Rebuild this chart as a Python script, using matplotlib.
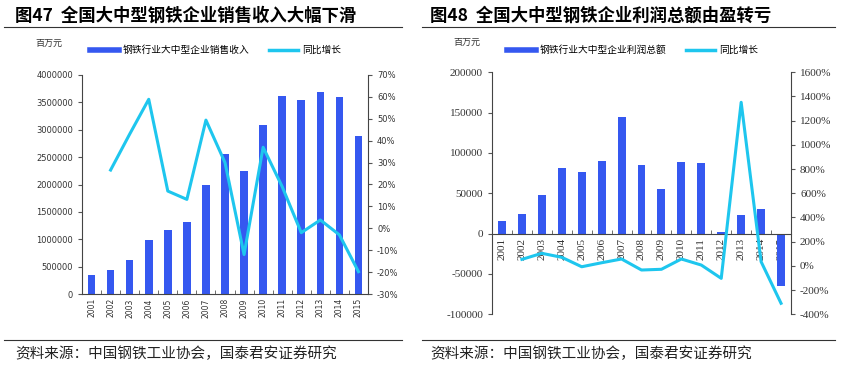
import matplotlib
matplotlib.use("Agg")
import matplotlib.pyplot as plt
import numpy as np
from matplotlib.lines import Line2D
from matplotlib.ticker import FuncFormatter, MultipleLocator

plt.rcParams['font.family'] = ['Noto Sans CJK SC', 'DejaVu Sans']

years = [str(y) for y in range(2001, 2016)]

# 图47: 销售收入 (百万元) and 同比增长 (%)
revenue = [340000, 430000, 625000, 990000, 1170000, 1320000, 1990000, 2555000,
           2240000, 3080000, 3620000, 3545000, 3690000, 3595000, 2890000]
revenue_growth = [np.nan, 26.6, 43.0, 58.9, 17.0, 13.2, 49.4, 30.0,
                  -12.0, 37.0, 19.0, -2.0, 3.8, -3.0, -19.8]

# 图48: 利润总额 (百万元) and 同比增长 (%)
profit = [15500, 23800, 47700, 81500, 76200, 90200, 144700, 84500,
          55500, 89400, 87400, 1500, 22900, 30700, -64700]
profit_growth = [np.nan, 54, 104, 71, -7, 26, 57, -34,
                 -28, 57, 7, -103, 1352, 35, -309]

BAR = '#3558F0'
LINE = '#1EC6EE'
W, H = 841, 367


def rect(x0, y0, x1, y1):
    # pixel box -> figure fraction
    return [x0 / W, 1 - y1 / H, (x1 - x0) / W, (y1 - y0) / H]


fig = plt.figure(figsize=(W / 100, H / 100), dpi=100)


def panel(box, bars, growth, ylim, ystep, ylim2, ystep2, title, tx, rule,
          bar_label, unit_xy, leg_xy, numfont, xsize, ysize, zero_axis):
    ax = fig.add_axes(rect(*box))
    x = np.arange(len(years))
    ax.bar(x, bars, width=0.4, color=BAR, zorder=2)
    ax.set_xlim(-0.5, len(years) - 0.5)
    ax.set_ylim(*ylim)
    ax.yaxis.set_major_locator(MultipleLocator(ystep))
    ax.yaxis.set_major_formatter(FuncFormatter(lambda v, p: f'{v:.0f}'))
    for s in ['top', 'right']:
        ax.spines[s].set_visible(False)
    if zero_axis:
        ax.spines['bottom'].set_position(('data', 0))
    ax.set_xticks(x)
    ax.set_xticklabels(years, rotation=90, fontsize=xsize, family=numfont,
                       color='#333333')
    ax.set_xticks(np.arange(-0.5, len(years)), minor=True)
    ax.tick_params(axis='x', which='major', length=0, pad=3)
    ax.tick_params(axis='x', which='minor', length=3, direction='in', color='#555555')
    ax.tick_params(axis='y', length=3, labelsize=ysize, color='#555555',
                   labelcolor='#333333')
    for lab in ax.get_yticklabels():
        lab.set_family(numfont)
    for s in ['left', 'bottom']:
        ax.spines[s].set_color('#444444')
        ax.spines[s].set_linewidth(0.8)

    ax2 = ax.twinx()
    ax2.plot(x, growth, color=LINE, lw=2.2, zorder=3)
    ax2.set_ylim(*ylim2)
    ax2.yaxis.set_major_locator(MultipleLocator(ystep2))
    ax2.yaxis.set_major_formatter(FuncFormatter(lambda v, p: f'{v:.0f}%'))
    for s in ['top', 'left', 'bottom']:
        ax2.spines[s].set_visible(False)
    ax2.spines['right'].set_color('#444444')
    ax2.spines['right'].set_linewidth(0.8)
    ax2.tick_params(axis='y', length=3, labelsize=ysize, color='#555555',
                    labelcolor='#333333')
    for lab in ax2.get_yticklabels():
        lab.set_family(numfont)

    # title, rules and source
    x0 = tx / W
    fig.text(x0, 1 - 16 / H, title, fontsize=12.5, fontweight='bold', va='center')
    for yy in (27, 340):
        fig.add_artist(Line2D([rule[0] / W, rule[1] / W], [1 - yy / H] * 2,
                              color='#333333', lw=0.8))
    fig.text(x0, 1 - 354 / H, '资料来源：中国钢铁工业协会，国泰君安证券研究',
             fontsize=10.5, va='center', color='#222222')
    fig.text(unit_xy[0] / W, 1 - unit_xy[1] / H, '百万元', fontsize=6.5,
             va='center', color='#333333')

    handles = [Line2D([], [], color=BAR, lw=4), Line2D([], [], color=LINE, lw=2.5)]
    fig.legend(handles, [bar_label, '同比增长'], ncol=2, frameon=False,
               loc='center left', bbox_to_anchor=(leg_xy[0] / W, 1 - leg_xy[1] / H),
               fontsize=7, handlelength=3.0, handletextpad=0.4,
               columnspacing=2.0, borderpad=0, borderaxespad=0)
    return ax


panel((82, 75, 368, 294), revenue, revenue_growth, (0, 4000000), 500000,
      (-30, 70), 10, '图47  全国大中型钢铁企业销售收入大幅下滑', 15, (4, 402),
      '钢铁行业大中型企业销售收入', (35, 43), (90, 50), 'DejaVu Sans', 5.5, 6, False)

panel((492, 72.3, 791, 314.3), profit, profit_growth, (-100000, 200000), 50000,
      (-400, 1600), 200, '图48  全国大中型钢铁企业利润总额由盈转亏', 430, (422, 835),
      '钢铁行业大中型企业利润总额', (453, 42), (507, 50), 'Liberation Serif', 8, 8, True)

fig.savefig('out.png', dpi=100)
